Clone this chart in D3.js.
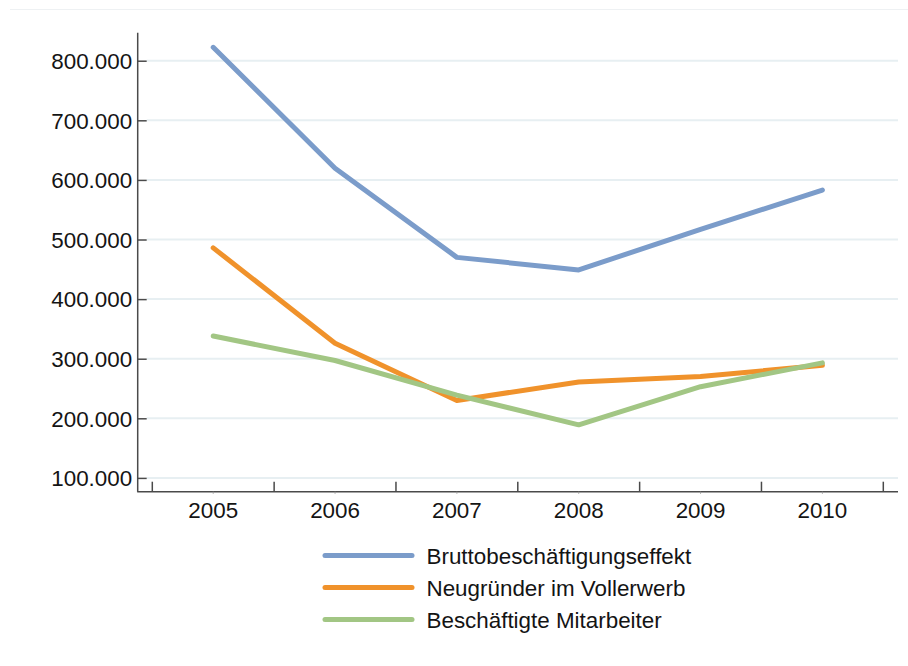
<!DOCTYPE html>
<html>
<head>
<meta charset="utf-8">
<script src="https://cdn.jsdelivr.net/npm/d3@7"></script>
<style>
  html, body { margin: 0; padding: 0; background: #fff; }
  svg { display: block; }
  text { font-family: "Liberation Sans", Arial, sans-serif; fill: #141414; }
</style>
</head>
<body>
<svg id="chart" width="908" height="666"></svg>
<script>
const years = ["2005", "2006", "2007", "2008", "2009", "2010"];
const seriesNames = ["Bruttobeschäftigungseffekt", "Neugründer im Vollerwerb", "Beschäftigte Mitarbeiter"];
const brutto = [822500, 619500, 470000, 449000, 517000, 583000];
const neugruender = [486000, 326000, 230000, 261000, 270000, 289000];
const mitarbeiter = [338000, 297000, 239000, 189000, 253000, 293000];
const yTicks = [100000, 200000, 300000, 400000, 500000, 600000, 700000, 800000];
const colors = ["#7b9cca", "#f0922b", "#a2c684"];

const series = [brutto, neugruender, mitarbeiter].map((v, i) => ({ name: seriesNames[i], values: v, color: colors[i] }));

const svg = d3.select("#chart");
const axisLeftX = 137.7, axisRightX = 898, axisTopY = 32.7, axisBottomY = 491.7;
const fs = 22.4;

const x = d3.scaleBand().domain(years).range([152.3, 883.3]);
const y = d3.scaleLinear().domain([76850, 847000]).range([axisBottomY, axisTopY]);

const fmt = v => d3.format(",")(v).replace(/,/g, ".");

// faint top rule
svg.append("line").attr("x1", 10).attr("x2", 908).attr("y1", 9.5).attr("y2", 9.5)
  .attr("stroke", "#eef1f3").attr("stroke-width", 1);

// gridlines
svg.append("g").selectAll("line").data(yTicks).join("line")
  .attr("x1", 146.7).attr("x2", axisRightX)
  .attr("y1", d => y(d)).attr("y2", d => y(d))
  .attr("stroke", "#e7eff2").attr("stroke-width", 2);

// y axis
const yAxis = svg.append("g").attr("transform", `translate(${axisLeftX},0)`)
  .call(d3.axisLeft(y).tickValues(yTicks).tickFormat(fmt).tickSize(-9).tickPadding(5));
yAxis.select(".domain").remove();
yAxis.append("line").attr("x1", 0).attr("x2", 0).attr("y1", axisTopY).attr("y2", axisBottomY)
  .attr("stroke", "#4a4a4a").attr("stroke-width", 1.5);
yAxis.selectAll(".tick line").attr("stroke", "#4a4a4a").attr("stroke-width", 1.5);
yAxis.selectAll(".tick text").attr("font-size", fs).attr("dy", "0.35em").attr("x", -5.5)
  .style("font-family", "'Liberation Sans', Arial, sans-serif").attr("fill", "#141414");

// x axis
const xg = svg.append("g");
xg.append("line").attr("x1", axisLeftX - 0.5).attr("x2", axisRightX).attr("y1", axisBottomY).attr("y2", axisBottomY)
  .attr("stroke", "#4a4a4a").attr("stroke-width", 1.5);
const boundaries = years.map(d => x(d)).concat([x(years[years.length - 1]) + x.bandwidth()]);
xg.selectAll("line.bt").data(boundaries).join("line").attr("class", "bt")
  .attr("x1", d => d).attr("x2", d => d).attr("y1", axisBottomY).attr("y2", axisBottomY - 10)
  .attr("stroke", "#4a4a4a").attr("stroke-width", 1.5);
xg.selectAll("line.ct").data(years).join("line").attr("class", "ct")
  .attr("x1", d => x(d) + x.bandwidth() / 2).attr("x2", d => x(d) + x.bandwidth() / 2)
  .attr("y1", axisBottomY).attr("y2", axisBottomY + 2)
  .attr("stroke", "#9a9a9a").attr("stroke-width", 1);
xg.selectAll("text").data(years).join("text")
  .attr("x", d => x(d) + x.bandwidth() / 2).attr("y", 517.5)
  .attr("text-anchor", "middle").attr("font-size", fs).text(d => d);

// lines
const line = d3.line().x((d, i) => x(years[i]) + x.bandwidth() / 2).y(d => y(d));
svg.append("g").selectAll("path").data(series).join("path")
  .attr("d", s => line(s.values))
  .attr("fill", "none").attr("stroke", s => s.color).attr("stroke-width", 5)
  .attr("stroke-linecap", "round").attr("stroke-linejoin", "round");

// legend
const legend = svg.append("g").selectAll("g").data(series).join("g")
  .attr("transform", (d, i) => `translate(0,${555.5 + i * 32})`);
legend.append("line").attr("x1", 325).attr("x2", 412).attr("y1", 0).attr("y2", 0)
  .attr("stroke", d => d.color).attr("stroke-width", 5).attr("stroke-linecap", "round");
legend.append("text").attr("x", 426.5).attr("y", 8.5).attr("font-size", fs).text(d => d.name);
</script>
</body>
</html>
